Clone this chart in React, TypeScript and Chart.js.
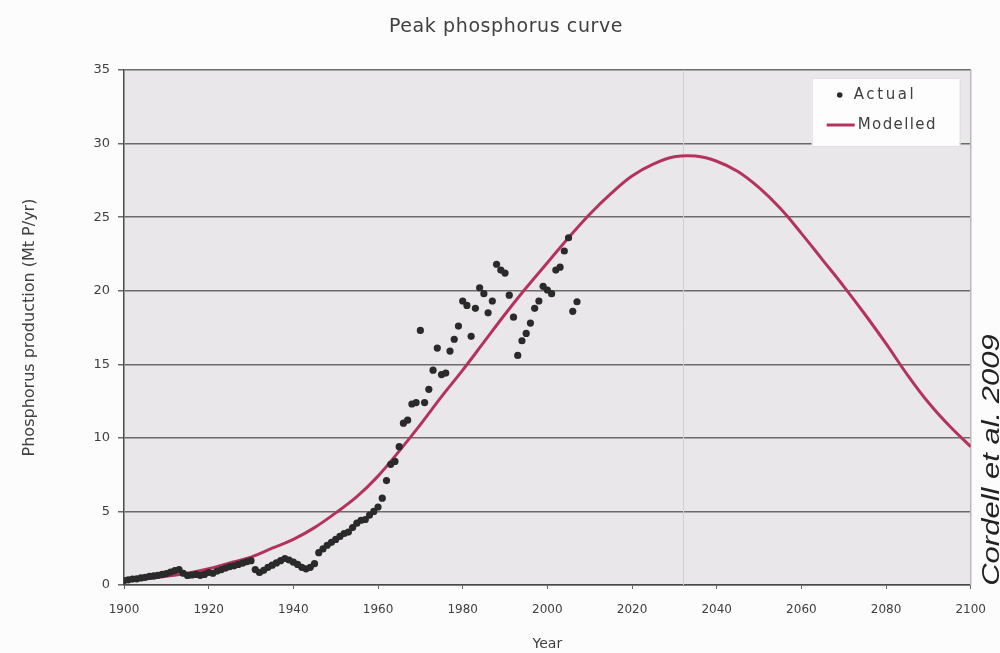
import React, { useEffect, useRef } from "react";
import { Chart, registerables } from "chart.js";

Chart.register(...registerables);

const titleText = "Peak phosphorus curve";
const xAxisTitle = "Year";
const yAxisTitle = "Phosphorus production (Mt P/yr)";
const sourceNote = "Cordell et al. 2009";
const legendActual = "Actual";
const legendModelled = "Modelled";

const xTicks = [1900, 1920, 1940, 1960, 1980, 2000, 2020, 2040, 2060, 2080, 2100];
const yTicks = [0, 5, 10, 15, 20, 25, 30, 35];
const peakYear = 2032;

const actualYears = [
  1900, 1901, 1902, 1903, 1904, 1905, 1906, 1907, 1908, 1909,
  1910, 1911, 1912, 1913, 1914, 1915, 1916, 1917, 1918, 1919,
  1920, 1921, 1922, 1923, 1924, 1925, 1926, 1927, 1928, 1929,
  1930, 1931, 1932, 1933, 1934, 1935, 1936, 1937, 1938, 1939,
  1940, 1941, 1942, 1943, 1944, 1945, 1946, 1947, 1948, 1949,
  1950, 1951, 1952, 1953, 1954, 1955, 1956, 1957, 1958, 1959,
  1960, 1961, 1962, 1963, 1964, 1965, 1966, 1967, 1968, 1969,
  1970, 1971, 1972, 1973, 1974, 1975, 1976, 1977, 1978, 1979,
  1980, 1981, 1982, 1983, 1984, 1985, 1986, 1987, 1988, 1989,
  1990, 1991, 1992, 1993, 1994, 1995, 1996, 1997, 1998, 1999,
  2000, 2001, 2002, 2003, 2004, 2005, 2006, 2007,
];
const actualValues = [
  0.3, 0.35, 0.4, 0.42, 0.48, 0.52, 0.58, 0.62, 0.66, 0.72,
  0.78, 0.88, 0.98, 1.05, 0.8, 0.65, 0.68, 0.72, 0.66, 0.72,
  0.85, 0.8, 0.95, 1.05, 1.15, 1.25, 1.3, 1.4, 1.48, 1.58,
  1.65, 1.05, 0.85, 1.0, 1.2, 1.35, 1.5, 1.65, 1.8, 1.7,
  1.55, 1.4, 1.2, 1.1, 1.2, 1.45, 2.2, 2.45, 2.7, 2.9,
  3.1, 3.3, 3.5, 3.6, 3.9, 4.2, 4.4, 4.45, 4.75, 5.0,
  5.3, 5.9, 7.1, 8.2, 8.4, 9.4, 11.0, 11.2, 12.3, 12.4,
  17.3, 12.4, 13.3, 14.6, 16.1, 14.3, 14.4, 15.9, 16.7, 17.6,
  19.3, 19.0, 16.9, 18.8, 20.2, 19.8, 18.5, 19.3, 21.8, 21.4,
  21.2, 19.7, 18.2, 15.6, 16.6, 17.1, 17.8, 18.8, 19.3, 20.3,
  20.05, 19.8, 21.4, 21.6, 22.7, 23.6, 18.6, 19.25,
];

const modelYears = [
  1900, 1905, 1910, 1915, 1920, 1925, 1930, 1935, 1940, 1945,
  1950, 1955, 1960, 1965, 1970, 1975, 1980, 1985, 1990, 1995,
  2000, 2005, 2010, 2015, 2020, 2025, 2030, 2035, 2040, 2045,
  2050, 2055, 2060, 2065, 2070, 2075, 2080, 2085, 2090, 2095, 2100,
];
const modelValues = [
  0.3, 0.4, 0.6, 0.8, 1.1, 1.5, 1.9, 2.5, 3.1, 3.9,
  4.9, 6.0, 7.4, 9.1, 10.9, 12.8, 14.6, 16.5, 18.4, 20.2,
  21.9, 23.6, 25.2, 26.6, 27.8, 28.6, 29.1, 29.15, 28.8, 28.1,
  27.0, 25.6, 23.9, 22.1, 20.3, 18.4, 16.4, 14.3, 12.4, 10.8, 9.4,
];

const FONT = "'DejaVu Sans', 'Noto Sans', sans-serif";
const TEXT = "#404040";
const DOT = "#2a2a2a";
const RED = "#b3335c";

const decorPlugin = {
  id: "decor",
  beforeDraw(chart: any) {
    const { ctx, chartArea: a } = chart;
    ctx.save();
    ctx.fillStyle = "#fcfcfc";
    ctx.fillRect(0, 0, chart.width, chart.height);
    ctx.fillStyle = "#eae7eb";
    ctx.fillRect(a.left, a.top, a.right - a.left, a.bottom - a.top);
    ctx.restore();
  },
  beforeDatasetsDraw(chart: any) {
    const { ctx, chartArea: a, scales } = chart;
    ctx.save();
    const px = Math.round(scales.x.getPixelForValue(peakYear)) + 0.5;
    ctx.strokeStyle = "#d2cfd4";
    ctx.lineWidth = 1;
    ctx.beginPath();
    ctx.moveTo(px, a.top);
    ctx.lineTo(px, a.bottom);
    ctx.stroke();
    ctx.strokeStyle = "#b9b9b9";
    ctx.lineWidth = 1.5;
    ctx.beginPath();
    ctx.moveTo(a.right, a.top);
    ctx.lineTo(a.right, a.bottom);
    ctx.stroke();
    ctx.restore();
  },
  afterDraw(chart: any) {
    const { ctx, chartArea: a } = chart;
    ctx.save();
    // title
    ctx.fillStyle = TEXT;
    ctx.font = `19px ${FONT}`;
    (ctx as any).letterSpacing = "0.6px";
    ctx.textAlign = "center";
    ctx.textBaseline = "middle";
    ctx.fillText(titleText, 506, 27);

    // legend
    const bx = a.right - 159;
    const by = a.top + 8;
    ctx.fillStyle = "#fdfdfd";
    ctx.fillRect(bx, by, 148, 68);
    ctx.strokeStyle = "#e0e0e0";
    ctx.lineWidth = 1;
    ctx.strokeRect(bx + 0.5, by + 0.5, 148, 68);
    ctx.fillStyle = DOT;
    ctx.beginPath();
    ctx.arc(bx + 28, by + 17, 2.8, 0, Math.PI * 2);
    ctx.fill();
    ctx.strokeStyle = RED;
    ctx.lineWidth = 3;
    ctx.beginPath();
    ctx.moveTo(bx + 15, by + 47);
    ctx.lineTo(bx + 43, by + 47);
    ctx.stroke();
    ctx.fillStyle = TEXT;
    ctx.font = `15px ${FONT}`;
    (ctx as any).letterSpacing = "2.6px";
    ctx.textAlign = "left";
    ctx.textBaseline = "middle";
    ctx.fillText(legendActual, bx + 42, by + 17);
    (ctx as any).letterSpacing = "1.4px";
    ctx.fillText(legendModelled, bx + 46, by + 47);
    (ctx as any).letterSpacing = "0px";

    // source note
    ctx.fillStyle = "#222";
    ctx.font = `italic 31px 'Liberation Sans', Arial, sans-serif`;
    ctx.translate(999, 460);
    ctx.scale(0.75, 1);
    ctx.rotate(-Math.PI / 2);
    ctx.textAlign = "center";
    ctx.textBaseline = "alphabetic";
    ctx.fillText(sourceNote, 0, 0);
    ctx.restore();
  },
};

export default function App() {
  const ref = useRef<HTMLCanvasElement | null>(null);

  useEffect(() => {
    if (!ref.current) return;
    const chart = new Chart(ref.current, {
      type: "line",
      data: {
        datasets: [
          {
            type: "scatter",
            label: legendActual,
            data: actualYears.map((x, i) => ({ x, y: actualValues[i] })),
            pointRadius: 3.6,
            pointHoverRadius: 3.6,
            backgroundColor: DOT,
            borderColor: DOT,
            borderWidth: 0,
            showLine: false,
          },
          {
            type: "line",
            label: legendModelled,
            data: modelYears.map((x, i) => ({ x, y: modelValues[i] })),
            borderColor: RED,
            borderWidth: 3,
            pointRadius: 0,
            tension: 0.4,
            fill: false,
          },
        ],
      } as any,
      options: {
        responsive: false,
        animation: false,
        devicePixelRatio: 1,
        layout: { padding: { left: 0, right: 25, top: 70, bottom: 0 } },
        plugins: {
          legend: { display: false },
          title: { display: false },
          tooltip: { enabled: false },
        },
        scales: {
          x: {
            type: "linear",
            min: 1900,
            max: 2100,
            afterBuildTicks: (s: any) => {
              s.ticks = xTicks.map((v) => ({ value: v }));
            },
            afterFit: (s: any) => {
              s.height = 68;
            },
            ticks: {
              color: TEXT,
              font: { family: FONT, size: 12 },
              padding: 14,
              maxRotation: 0,
              autoSkip: false,
              callback: (v: any) => String(v),
            },
            grid: {
              drawOnChartArea: false,
              drawTicks: true,
              tickLength: 4,
              color: "#666",
            },
            border: { display: true, color: "#4a4a4a", width: 1.5 },
            title: {
              display: true,
              text: xAxisTitle,
              color: TEXT,
              font: { family: FONT, size: 14 },
              padding: { top: 0, bottom: 0 },
            },
          },
          y: {
            type: "linear",
            min: 0,
            max: 35,
            afterBuildTicks: (s: any) => {
              s.ticks = yTicks.map((v) => ({ value: v }));
            },
            afterFit: (s: any) => {
              s.width = 124;
            },
            ticks: {
              color: TEXT,
              font: { family: FONT, size: 13 },
              padding: 8,
            },
            grid: {
              color: "#6b6b6b",
              lineWidth: 1.5,
              drawTicks: true,
              tickLength: 6,
            },
            border: { display: true, color: "#4a4a4a", width: 1.5 },
            title: {
              display: true,
              text: yAxisTitle,
              color: TEXT,
              font: { family: FONT, size: 16 },
              padding: { top: 20, bottom: 0 },
            },
          },
        },
      } as any,
      plugins: [decorPlugin],
    });
    return () => chart.destroy();
  }, []);

  return (
    <div style={{ position: "absolute", left: 0, top: 0, width: 1000, height: 653 }}>
      <canvas ref={ref} width={1000} height={653} style={{ width: 1000, height: 653, display: "block" }} />
    </div>
  );
}
